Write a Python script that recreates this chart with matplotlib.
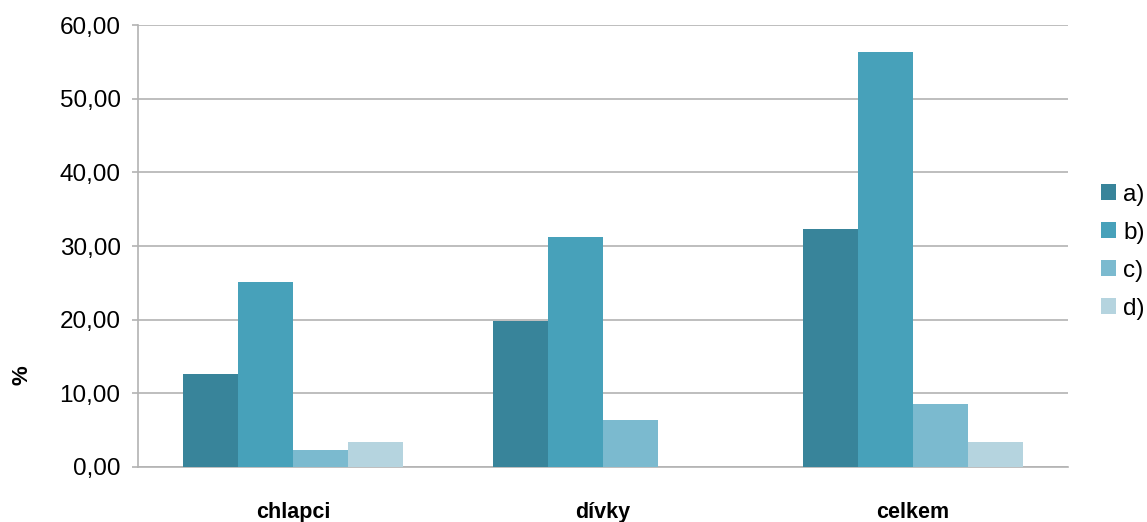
import numpy as np
import matplotlib.pyplot as plt
from matplotlib.ticker import FuncFormatter

plt.rcParams['font.family'] = ['Liberation Sans', 'DejaVu Sans']

groups = ['chlapci', 'dívky', 'celkem']
series = ['a)', 'b)', 'c)', 'd)']
vals_a = [12.6, 19.8, 32.3]
vals_b = [25.1, 31.2, 56.3]
vals_c = [2.3, 6.4, 8.5]
vals_d = [3.4, 0.0, 3.4]
colors = ['#38849a', '#47a1ba', '#7bbacf', '#b5d4df']

fig = plt.figure(figsize=(11.47, 5.22), dpi=100)
ax = fig.add_axes([0.1203, 0.1054, 0.8107, 0.8466])

x = np.arange(len(groups))
w = 0.178
for i, (vals, lab) in enumerate(zip([vals_a, vals_b, vals_c, vals_d], series)):
    ax.bar(x + (i - 1.5) * w, vals, w, color=colors[i], label=lab, zorder=3)

ax.set_xlim(-0.5, 2.5)
ax.set_ylim(0, 60)
ax.set_yticks(np.arange(0, 61, 10))
ax.yaxis.set_major_formatter(FuncFormatter(lambda v, p: f'{v:.2f}'.replace('.', ',')))
ax.grid(axis='y', color='#b3b3b3', linewidth=1.2, zorder=0)
ax.set_xticks(x)
ax.set_xticklabels(groups, fontsize=15.5, fontweight='bold')
ax.tick_params(axis='x', length=0, pad=25)
ax.tick_params(axis='y', length=4.5, width=1.2, color='#b3b3b3', labelsize=17.5, pad=8)

for s in ['top', 'right']:
    ax.spines[s].set_visible(False)
for s in ['left', 'bottom']:
    ax.spines[s].set_color('#b3b3b3')
    ax.spines[s].set_linewidth(1.2)

fig.text(0.019, 0.282, '%', rotation=90, fontsize=16, fontweight='bold', va='center', ha='center')

ax.legend(loc='center left', bbox_to_anchor=(1101 / 1147, 0.518), bbox_transform=fig.transFigure,
          frameon=False, fontsize=17.5, borderpad=0, borderaxespad=0,
          handlelength=0.62, handleheight=0.62, handletextpad=0.3, labelspacing=0.66)

fig.savefig('out.png', dpi=100)
